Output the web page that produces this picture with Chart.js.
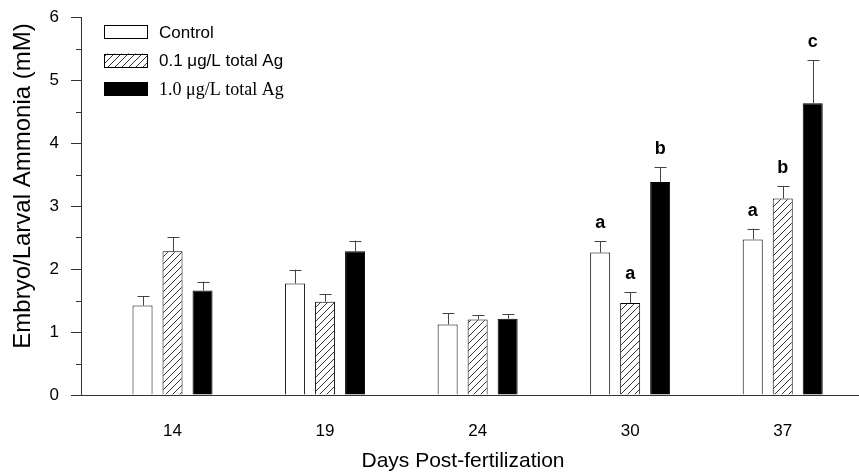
<!DOCTYPE html>
<html>
<head>
<meta charset="utf-8">
<script src="https://cdn.jsdelivr.net/npm/chart.js@4.4.1/dist/chart.umd.min.js"></script>
<style>
  html, body { margin: 0; padding: 0; background: #fff; overflow: hidden; }
  #wrap { width: 859px; height: 474px; }
</style>
</head>
<body>
<div id="wrap"><canvas id="ammoniaChart" width="859" height="474"></canvas></div>
<script>
// Days post-fertilization (categories)
const days = ['14', '19', '24', '30', '37'];
const seriesNames = ['Control', '0.1 \u03bcg/L total Ag', '1.0 \u03bcg/L total Ag'];

// mean embryo/larval ammonia (mM)
const controlMean = [1.42, 1.77, 1.12, 2.26, 2.47];
const lowAgMean   = [2.28, 1.48, 1.20, 1.46, 3.12];
const highAgMean  = [1.66, 2.28, 1.21, 3.38, 4.63];

// upper error bars (SEM)
const controlErr = [0.15, 0.22, 0.18, 0.18, 0.17];
const lowAgErr   = [0.22, 0.12, 0.07, 0.17, 0.20];
const highAgErr  = [0.14, 0.17, 0.07, 0.24, 0.68];

// significance letters
const controlSig = ['', '', '', 'a', 'a'];
const lowAgSig   = ['', '', '', 'a', 'b'];
const highAgSig  = ['', '', '', 'b', 'c'];

const yTicks = [0, 1, 2, 3, 4, 5, 6];

const SANS = '"Liberation Sans", Arial, sans-serif';
const SERIF = '"Liberation Serif", "Times New Roman", serif';

// diagonal hatch fill for the 0.1 ug/L series
function makeHatch() {
    const s = 7;
    const c = document.createElement('canvas');
    c.width = s; c.height = s;
    const g = c.getContext('2d');
    g.fillStyle = '#fff';
    g.fillRect(0, 0, s, s);
    g.strokeStyle = '#333';
    g.lineWidth = 1;
    g.beginPath();
    g.moveTo(-1, s + 1); g.lineTo(s + 1, -1);
    g.moveTo(-1, 1); g.lineTo(1, -1);
    g.moveTo(s - 1, s + 1); g.lineTo(s + 1, s - 1);
    g.stroke();
    return g.createPattern(c, 'repeat');
}
const hatch = makeHatch();

const errBars = [controlErr, lowAgErr, highAgErr];
const sigLetters = [controlSig, lowAgSig, highAgSig];
const legendFonts = ['17px ' + SANS, '17px ' + SANS, '18px ' + SERIF];

/* ---------- custom drawing ---------- */
const extras = {
    id: 'extras',
    afterDatasetsDraw(chart) {
        const ctx = chart.ctx;
        const y = chart.scales.y;
        const left = chart.chartArea.left;
        ctx.save();

        // major + minor ticks on the y axis
        ctx.strokeStyle = '#333';
        ctx.lineWidth = 1;
        for (let v = 0; v <= 6; v += 0.5) {
            const py = Math.round(y.getPixelForValue(v)) + 0.5;
            const len = Number.isInteger(v) ? 10 : 5;
            ctx.beginPath();
            ctx.moveTo(left - len, py);
            ctx.lineTo(left, py);
            ctx.stroke();
        }

        // error bars + letters
        chart.data.datasets.forEach((ds, di) => {
            const meta = chart.getDatasetMeta(di);
            meta.data.forEach((bar, i) => {
                const top = y.getPixelForValue(ds.data[i] + errBars[di][i]);
                const x = Math.round(bar.x) + 0.5;
                ctx.strokeStyle = '#444';
                ctx.beginPath();
                ctx.moveTo(x, bar.y);
                ctx.lineTo(x, top);
                ctx.moveTo(x - 6, Math.round(top) + 0.5);
                ctx.lineTo(x + 6, Math.round(top) + 0.5);
                ctx.stroke();
                const letter = sigLetters[di][i];
                if (letter) {
                    ctx.fillStyle = '#000';
                    ctx.font = 'bold 18px ' + SANS;
                    ctx.textAlign = 'center';
                    ctx.textBaseline = 'alphabetic';
                    ctx.fillText(letter, bar.x, top - 13);
                }
            });
        });

        // legend
        chart.data.datasets.forEach((ds, di) => {
            const bx = 104, by = 25 + di * 28.5;
            ctx.fillStyle = ds.backgroundColor;
            ctx.fillRect(bx, by, 44, 14);
            ctx.strokeStyle = '#000';
            ctx.strokeRect(bx + 0.5, Math.round(by) + 0.5, 43, 13);
            ctx.fillStyle = '#000';
            ctx.font = legendFonts[di];
            ctx.textAlign = 'left';
            ctx.textBaseline = 'middle';
            ctx.fillText(ds.label, 159, by + 8);
        });

        // axis titles
        ctx.fillStyle = '#000';
        ctx.textAlign = 'center';
        ctx.textBaseline = 'middle';
        ctx.font = '21px ' + SANS;
        ctx.fillText('Days Post-fertilization', 463, 461);
        ctx.translate(23, 186);
        ctx.rotate(-Math.PI / 2);
        ctx.font = '24px ' + SANS;
        ctx.fillText('Embryo/Larval Ammonia (mM)', 0, 0);
        ctx.restore();
    }
};

const ctx = document.getElementById('ammoniaChart').getContext('2d');
new Chart(ctx, {
    type: 'bar',
    data: {
        labels: days.map((d, i) => i),
        datasets: [
            { label: seriesNames[0], data: controlMean, backgroundColor: '#fff', borderColor: '#000', borderWidth: 1 },
            { label: seriesNames[1], data: lowAgMean, backgroundColor: hatch, borderColor: '#000', borderWidth: 1 },
            { label: seriesNames[2], data: highAgMean, backgroundColor: '#000', borderColor: '#000', borderWidth: 1 }
        ]
    },
    options: {
        responsive: false,
        animation: false,
        categoryPercentage: 0.59,
        barPercentage: 0.667,
        layout: { padding: { top: 17, left: 0, right: 0, bottom: 0 } },
        plugins: { legend: { display: false }, tooltip: { enabled: false } },
        scales: {
            x: {
                type: 'linear',
                offset: false,
                min: -0.6,
                max: 4.5,
                grid: { display: false, drawTicks: false, offset: false },
                border: { display: true, color: '#333', width: 1 },
                ticks: {
                    stepSize: 1,
                    includeBounds: false,
                    autoSkip: false,
                    maxRotation: 0,
                    padding: 26,
                    color: '#000',
                    font: { family: SANS, size: 17 },
                    callback: (v) => Number.isInteger(v) ? days[v] : ''
                },
                afterFit: (s) => { s.height = 79; }
            },
            y: {
                min: 0,
                max: 6,
                afterBuildTicks: (s) => { s.ticks = yTicks.map(v => ({ value: v })); },
                // ticks themselves are drawn in the plugin; keep the space for them
                grid: { drawOnChartArea: false, drawTicks: true, tickLength: 16, color: 'rgba(0,0,0,0)' },
                border: { display: true, color: '#333', width: 1 },
                ticks: {
                    padding: 6,
                    color: '#000',
                    font: { family: SANS, size: 17 }
                },
                afterFit: (s) => { s.width = 81; }
            }
        }
    },
    plugins: [extras]
});
</script>
</body>
</html>
